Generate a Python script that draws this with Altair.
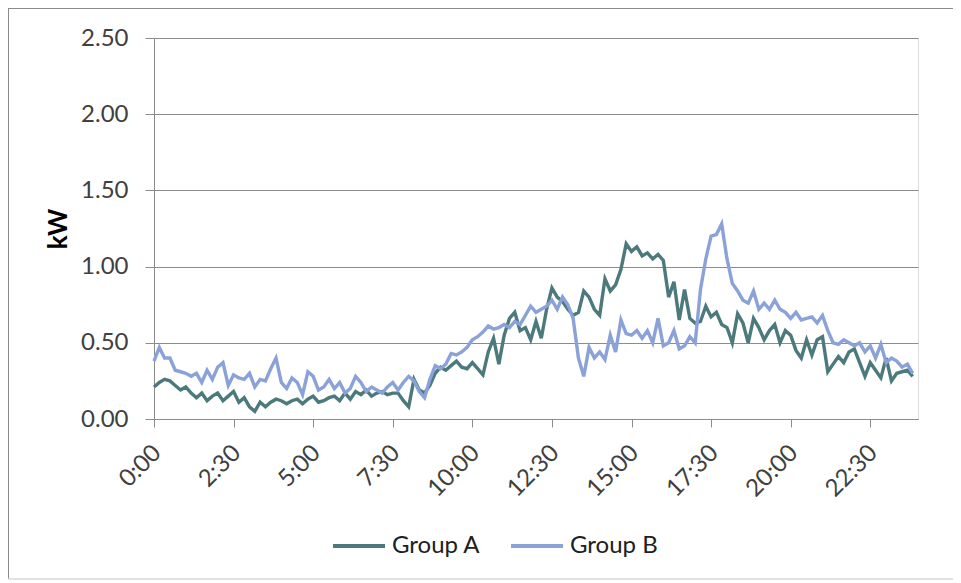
import altair as alt
import pandas as pd

# 10-minute intervals across the day (minutes after midnight)
minutes = [i * 10 for i in range(144)]

group_a = [
    0.21, 0.24, 0.26, 0.25, 0.22, 0.19, 0.21, 0.17, 0.14, 0.17,
    0.12, 0.15, 0.17, 0.12, 0.15, 0.18, 0.11, 0.14, 0.08, 0.05,
    0.11, 0.08, 0.11, 0.13, 0.12, 0.10, 0.12, 0.13, 0.10, 0.13,
    0.15, 0.11, 0.12, 0.14, 0.15, 0.12, 0.17, 0.13, 0.18, 0.16,
    0.19, 0.15, 0.17, 0.18, 0.16, 0.17, 0.17, 0.12, 0.08, 0.26,
    0.19, 0.17, 0.22, 0.30, 0.34, 0.32, 0.35, 0.38, 0.34, 0.33,
    0.37, 0.33, 0.29, 0.44, 0.53, 0.36, 0.55, 0.66, 0.70, 0.58,
    0.60, 0.52, 0.64, 0.53, 0.72, 0.86, 0.80, 0.77, 0.72, 0.68,
    0.70, 0.84, 0.80, 0.72, 0.68, 0.92, 0.84, 0.88, 0.98, 1.15,
    1.10, 1.13, 1.07, 1.09, 1.05, 1.08, 1.04, 0.80, 0.90, 0.65,
    0.85, 0.66, 0.63, 0.64, 0.74, 0.67, 0.70, 0.62, 0.60, 0.50,
    0.69, 0.63, 0.50, 0.66, 0.60, 0.52, 0.58, 0.62, 0.50, 0.58,
    0.55, 0.45, 0.40, 0.52, 0.42, 0.52, 0.54, 0.31, 0.36, 0.41,
    0.37, 0.44, 0.46, 0.37, 0.28, 0.37, 0.32, 0.27, 0.40, 0.25,
    0.30, 0.31, 0.32, 0.28,
]

group_b = [
    0.38, 0.47, 0.40, 0.40, 0.32, 0.31, 0.30, 0.28, 0.30, 0.24,
    0.32, 0.26, 0.34, 0.37, 0.22, 0.29, 0.27, 0.26, 0.30, 0.21,
    0.26, 0.25, 0.33, 0.40, 0.24, 0.20, 0.27, 0.24, 0.16, 0.31,
    0.28, 0.19, 0.21, 0.26, 0.20, 0.24, 0.17, 0.20, 0.28, 0.24,
    0.18, 0.21, 0.19, 0.17, 0.21, 0.24, 0.19, 0.24, 0.28, 0.25,
    0.18, 0.14, 0.26, 0.35, 0.33, 0.36, 0.43, 0.42, 0.44, 0.47,
    0.52, 0.54, 0.57, 0.61, 0.59, 0.60, 0.62, 0.60, 0.64, 0.62,
    0.68, 0.74, 0.70, 0.72, 0.74, 0.78, 0.72, 0.80, 0.75, 0.66,
    0.40, 0.28, 0.47, 0.40, 0.44, 0.39, 0.55, 0.44, 0.65, 0.56,
    0.55, 0.58, 0.53, 0.58, 0.50, 0.66, 0.48, 0.50, 0.58, 0.46,
    0.48, 0.54, 0.50, 0.85, 1.05, 1.20, 1.21, 1.28, 1.05, 0.89,
    0.84, 0.78, 0.76, 0.84, 0.72, 0.76, 0.72, 0.78, 0.72, 0.70,
    0.66, 0.70, 0.65, 0.66, 0.67, 0.63, 0.68, 0.58, 0.50, 0.49,
    0.52, 0.50, 0.48, 0.50, 0.44, 0.48, 0.40, 0.49, 0.37, 0.40,
    0.38, 0.34, 0.36, 0.30,
]

series_names = ["Group A", "Group B"]
series_colors = ["#4c7a7c", "#8aa2d8"]
x_ticks = [0, 150, 300, 450, 600, 750, 900, 1050, 1200, 1350]
y_ticks = [0, 0.5, 1.0, 1.5, 2.0, 2.5]

rows = []
for name, vals in zip(series_names, [group_a, group_b]):
    for m, v in zip(minutes, vals):
        rows.append({"minute": m, "kW": v, "series": name})
df = pd.DataFrame(rows)

FONT = "Lato"
W, H = 764, 381
one = alt.Data(values=[{"a": 1}])

# chart-area frame (left, top, faint bottom) as decoration
frame_left = alt.Chart(one).mark_rule(color="#8a8a8a", strokeWidth=2).encode(
    x=alt.value(-146), y=alt.value(-30), y2=alt.value(541)
)
frame_top = alt.Chart(one).mark_rule(color="#8a8a8a", strokeWidth=2).encode(
    x=alt.value(-146), x2=alt.value(W + 35), y=alt.value(-30)
)
frame_bottom = alt.Chart(one).mark_rule(color="#d8d8d8", strokeWidth=1.5).encode(
    x=alt.value(-146), x2=alt.value(W + 35), y=alt.value(541)
)

lines = alt.Chart(df).mark_line(strokeWidth=3.4).encode(
    x=alt.X(
        "minute:Q",
        scale=alt.Scale(domain=[0, 1440], nice=False, zero=False),
        axis=alt.Axis(
            title=None,
            values=x_ticks,
            labelExpr="floor(datum.value/60) + ':' + (datum.value % 60 < 10 ? '0' : '') + (datum.value % 60)",
            labelAngle=-45,
            labelAlign="right",
            labelBaseline="middle",
            labelPadding=22,
            labelOffset=3,
            labelFont=FONT,
            labelFontSize=24,
            labelColor="#404040",
            grid=False,
            domainColor="#8c8c8c",
            tickColor="#8c8c8c",
            tickSize=8,
        ),
    ),
    y=alt.Y(
        "kW:Q",
        scale=alt.Scale(domain=[0, 2.5], nice=False),
        axis=alt.Axis(
            title="kW",
            titleFont=FONT,
            titleFontSize=26,
            titleFontWeight="bold",
            titleColor="#000000",
            titlePadding=9,
            values=y_ticks,
            format=".2f",
            labelFont=FONT,
            labelFontSize=24,
            labelColor="#404040",
            labelPadding=17,
            grid=True,
            gridColor="#8c8c8c",
            gridWidth=1,
            domainColor="#8c8c8c",
            tickColor="#8c8c8c",
            tickSize=9,
        ),
    ),
    color=alt.Color(
        "series:N",
        scale=alt.Scale(domain=series_names, range=series_colors),
        legend=alt.Legend(
            title=None,
            orient="none",
            direction="horizontal",
            legendX=177,
            legendY=480,
            symbolType="stroke",
            symbolSize=2704,
            symbolStrokeWidth=4,
            labelFont=FONT,
            labelFontSize=24,
            labelColor="#202020",
            labelOffset=5,
            columnPadding=22,
            padding=0,
        ),
    ),
    detail="series:N",
)

chart = alt.layer(frame_left, frame_top, frame_bottom, lines).properties(
    width=W,
    height=H,
    autosize=alt.AutoSizeParams(type="none"),
    padding={"left": 146, "top": 30, "right": 35, "bottom": 164},
).configure_view(stroke=None).configure(background="white")

chart.save("out.html", embed_options={"renderer": "svg", "actions": False})
